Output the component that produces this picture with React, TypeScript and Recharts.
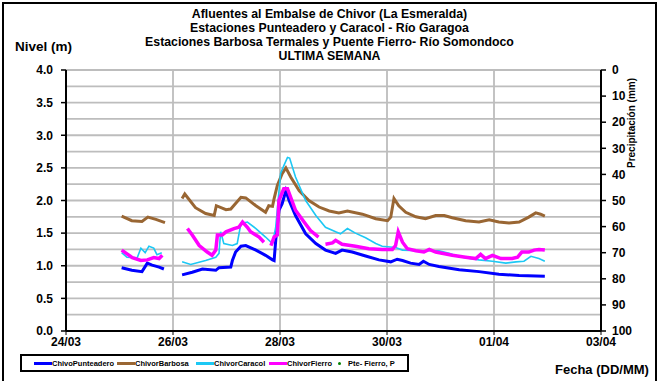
import { CartesianGrid, Line, LineChart, XAxis, YAxis } from 'recharts';

type Punto = [number, number | null];

// dia = días desde el 24/03 00:00, nivel en metros; null = vacío en el registro
const punteadero: Punto[] = [
  [1.04, 0.97], [1.23, 0.93], [1.42, 0.91], [1.52, 1.04], [1.61, 1.01], [1.74, 0.98], [1.83, 0.95],
  [1.95, null],
  [2.17, 0.86], [2.36, 0.9], [2.55, 0.95], [2.8, 0.93], [2.86, 0.97], [3.08, 0.98], [3.11, 1.08],
  [3.17, 1.21], [3.27, 1.3], [3.36, 1.31], [3.55, 1.24], [3.73, 1.16], [3.86, 1.09], [3.89, 1.08],
  [3.92, 1.39], [3.98, 1.85], [4.04, 1.95], [4.11, 2.15], [4.17, 2.0], [4.29, 1.77], [4.48, 1.49],
  [4.67, 1.34], [4.85, 1.24], [5.04, 1.19], [5.16, 1.24], [5.35, 1.21], [5.6, 1.15], [5.85, 1.09],
  [6.07, 1.06], [6.19, 1.1], [6.29, 1.08], [6.44, 1.04], [6.6, 1.02], [6.68, 1.07], [6.79, 1.02],
  [6.97, 0.99], [7.35, 0.94], [7.72, 0.91], [8.09, 0.87], [8.47, 0.85], [8.95, 0.84],
];

const barbosa: Punto[] = [
  [1.04, 1.76], [1.23, 1.69], [1.42, 1.68], [1.53, 1.745], [1.68, 1.71], [1.85, 1.66],
  [1.95, null],
  [2.17, 2.03], [2.22, 2.1], [2.42, 1.89], [2.61, 1.8], [2.77, 1.77], [2.81, 1.92], [2.99, 1.86],
  [3.08, 1.87], [3.27, 2.05], [3.36, 2.04], [3.55, 1.92], [3.73, 1.82], [3.79, 1.92], [3.86, 1.91],
  [3.89, 2.03], [3.95, 2.23], [4.04, 2.41], [4.11, 2.5], [4.2, 2.36], [4.36, 2.15], [4.54, 2.0],
  [4.73, 1.9], [4.92, 1.84], [5.1, 1.81], [5.26, 1.84], [5.54, 1.79], [5.79, 1.72], [6.01, 1.69],
  [6.07, 1.745], [6.13, 2.03], [6.22, 1.92], [6.35, 1.82], [6.54, 1.75], [6.72, 1.72], [6.91, 1.77],
  [7.07, 1.77], [7.22, 1.735], [7.47, 1.69], [7.72, 1.67], [7.91, 1.705], [8.09, 1.67], [8.28, 1.655],
  [8.47, 1.67], [8.65, 1.745], [8.78, 1.81], [8.87, 1.79], [8.95, 1.76],
];

const caracol: Punto[] = [
  [1.04, 1.2], [1.14, 1.13], [1.33, 1.12], [1.4, 1.27], [1.48, 1.2], [1.55, 1.3], [1.64, 1.27],
  [1.7, 1.17], [1.79, 1.2],
  [1.95, null],
  [2.17, 1.06], [2.33, 1.02], [2.61, 1.08], [2.8, 1.13], [2.86, 1.19], [2.89, 1.52], [2.95, 1.34],
  [3.11, 1.31], [3.2, 1.34], [3.27, 1.65], [3.39, 1.67], [3.55, 1.57], [3.73, 1.44], [3.86, 1.34],
  [3.92, 1.59], [4.01, 2.41], [4.07, 2.53], [4.14, 2.66], [4.18, 2.65], [4.29, 2.36], [4.48, 2.0],
  [4.67, 1.77], [4.85, 1.59], [5.04, 1.52], [5.13, 1.49], [5.26, 1.57], [5.41, 1.5], [5.6, 1.43],
  [5.79, 1.34], [5.91, 1.3], [6.16, 1.28], [6.29, 1.24], [6.6, 1.23], [6.97, 1.23], [7.16, 1.19],
  [7.35, 1.14], [7.72, 1.09], [7.97, 1.07], [8.22, 1.04], [8.41, 1.06], [8.56, 1.07], [8.69, 1.145],
  [8.84, 1.11], [8.95, 1.07],
];

const fierro: Punto[] = [
  [1.04, 1.24], [1.24, 1.125], [1.4, 1.08], [1.52, 1.09], [1.64, 1.125], [1.74, 1.11], [1.8, 1.16],
  [1.95, null],
  [2.27, 1.57], [2.36, 1.47], [2.49, 1.31], [2.64, 1.21], [2.73, 1.16], [2.8, 1.24], [2.83, 1.47],
  [2.92, 1.47], [2.99, 1.52], [3.14, 1.57], [3.23, 1.59], [3.3, 1.67], [3.39, 1.59], [3.45, 1.52],
  [3.61, 1.44], [3.7, 1.36],
  [3.76, null],
  [3.83, 1.31], [3.89, 1.44], [3.95, 1.47], [3.98, 2.0], [4.07, 2.18], [4.14, 2.18], [4.29, 1.85],
  [4.45, 1.67], [4.57, 1.54], [4.72, 1.44],
  [4.78, null],
  [4.85, 1.33], [4.98, 1.35], [5.04, 1.39], [5.16, 1.33], [5.41, 1.3], [5.66, 1.26], [5.91, 1.25],
  [6.1, 1.25], [6.16, 1.31], [6.21, 1.52], [6.29, 1.36], [6.38, 1.26], [6.54, 1.23], [6.69, 1.21],
  [6.79, 1.25], [6.91, 1.21], [7.22, 1.16], [7.47, 1.13], [7.66, 1.11], [7.75, 1.175], [7.84, 1.11],
  [7.97, 1.16], [8.13, 1.11], [8.34, 1.11], [8.44, 1.13], [8.52, 1.21], [8.65, 1.21], [8.75, 1.24],
  [8.84, 1.25], [8.95, 1.24],
];

const diasTicks = [0, 2, 4, 6, 8, 10];
const fechas = ['24/03', '26/03', '28/03', '30/03', '01/04', '03/04'];
const nivelTicks = [0, 0.5, 1, 1.5, 2, 2.5, 3, 3.5, 4];
const nivelGrid = [0.25, 0.5, 0.75, 1, 1.25, 1.5, 1.75, 2, 2.25, 2.5, 2.75, 3, 3.25, 3.5, 3.75, 4];
const precipTicks = [0, 10, 20, 30, 40, 50, 60, 70, 80, 90, 100];

const titulo = [
  'Afluentes al Embalse de Chivor (La Esmeralda)',
  'Estaciones Punteadero y Caracol - Río Garagoa',
  'Estaciones Barbosa Termales y Puente Fierro- Río Somondoco',
  'ULTIMA SEMANA',
];

const SERIES = [
  { name: 'ChivoPunteadero', data: punteadero, color: '#0000FF', width: 3 },
  { name: 'ChivorBarbosa', data: barbosa, color: '#996633', width: 3 },
  { name: 'ChivorCaracol', data: caracol, color: '#1CC8F4', width: 1.6 },
  { name: 'ChivorFierro', data: fierro, color: '#FF00FF', width: 3.5 },
];

const W = 659;
const H = 381;
const MARGIN = { top: 70, right: 18, bottom: 30, left: 26 };
const X_AXIS_H = 20;
const PLOT_H = H - MARGIN.top - MARGIN.bottom - X_AXIS_H;
const NIVEL_MAX = 4;

const FONT = '"Liberation Sans", Arial, sans-serif';
const GRID = '#BDBDBD';
const tickStyle = { fill: '#000', fontSize: 12, fontWeight: 'bold', fontFamily: FONT };

const toRows = (serie: Punto[]) => serie.map(([dia, nivel]) => ({ dia, nivel }));

// rejilla horizontal cada 0.25 m (las etiquetas van cada 0.5)
const gridY = nivelGrid.map((v) => MARGIN.top + PLOT_H * (1 - v / NIVEL_MAX));

export default function App() {
  return (
    <div
      style={{
        position: 'absolute',
        left: 0,
        top: 0,
        width: W,
        height: H,
        overflow: 'hidden',
        background: '#fff',
        fontFamily: FONT,
      }}
    >
      <div
        style={{
          position: 'absolute',
          left: 2,
          top: 2,
          width: 651,
          height: 420,
          border: '2px solid #000',
        }}
      />
      <div
        style={{
          position: 'absolute',
          left: 0,
          top: 7,
          width: W,
          textAlign: 'center',
          fontSize: 12.3,
          fontWeight: 'bold',
          lineHeight: '14px',
        }}
      >
        {titulo.map((t) => (
          <div key={t}>{t}</div>
        ))}
      </div>
      <div style={{ position: 'absolute', left: 15, top: 39, fontSize: 13.5, fontWeight: 'bold' }}>
        Nivel (m)
      </div>
      <div
        style={{
          position: 'absolute',
          left: 555,
          top: 362,
          fontSize: 13,
          fontWeight: 'bold',
          whiteSpace: 'nowrap',
        }}
      >
        Fecha (DD/MM)
      </div>
      <svg style={{ position: 'absolute', left: 620, top: 74, overflow: 'visible' }} width={24} height={100}>
        <text
          transform="translate(15, 94) rotate(-90)"
          fontSize={10}
          fontWeight="bold"
          fontFamily={FONT}
          textLength={90}
          lengthAdjust="spacingAndGlyphs"
        >
          Precipitación (mm)
        </text>
      </svg>

      <LineChart width={W} height={H} margin={MARGIN} style={{ position: 'absolute', left: 0, top: 0 }}>
        <CartesianGrid
          stroke={GRID}
          strokeWidth={1.8}
          horizontalPoints={gridY}
          verticalValues={[2, 4, 6, 8]}
        />
        <XAxis
          type="number"
          dataKey="dia"
          domain={[0, 10]}
          ticks={diasTicks}
          tickFormatter={(v: number) => fechas[diasTicks.indexOf(v)] ?? ''}
          height={X_AXIS_H}
          tick={tickStyle}
          tickSize={4}
          tickMargin={2}
          axisLine={{ stroke: '#000', strokeWidth: 2 }}
          tickLine={{ stroke: '#000' }}
          allowDataOverflow
        />
        <YAxis
          domain={[0, NIVEL_MAX]}
          ticks={nivelTicks}
          tickFormatter={(v: number) => v.toFixed(1)}
          width={40}
          tick={tickStyle}
          tickSize={5}
          tickMargin={8}
          axisLine={{ stroke: '#000', strokeWidth: 2 }}
          tickLine={{ stroke: '#000', strokeWidth: 1.5 }}
          allowDataOverflow
        />
        <YAxis
          yAxisId="precip"
          orientation="right"
          domain={[0, 100]}
          reversed
          ticks={precipTicks}
          width={40}
          tick={tickStyle}
          tickSize={5}
          tickMargin={6}
          axisLine={{ stroke: '#000', strokeWidth: 2 }}
          tickLine={{ stroke: '#000', strokeWidth: 1.5 }}
          allowDataOverflow
        />
        {SERIES.map((s) => (
          <Line
            key={s.name}
            data={toRows(s.data)}
            dataKey="nivel"
            name={s.name}
            stroke={s.color}
            strokeWidth={s.width}
            dot={false}
            activeDot={false}
            type="linear"
            connectNulls={false}
            isAnimationActive={false}
          />
        ))}
      </LineChart>

      <div
        style={{
          position: 'absolute',
          left: 20,
          top: 354,
          width: 385,
          height: 14,
          border: '2px solid #000',
          display: 'flex',
          alignItems: 'center',
          fontSize: 7.5,
          fontWeight: 'bold',
          color: '#000',
        }}
      >
        {SERIES.map((s, i) => (
          <div
            key={s.name}
            style={{ display: 'flex', alignItems: 'center', position: 'absolute', left: [12, 95, 174, 247][i] }}
          >
            <span style={{ display: 'inline-block', width: 18, height: 3, background: s.color }} />
            <span>{s.name}</span>
          </div>
        ))}
        <div style={{ display: 'flex', alignItems: 'center', position: 'absolute', left: 316 }}>
          <span
            style={{
              display: 'inline-block',
              width: 3,
              height: 3,
              borderRadius: 2,
              background: '#008000',
              marginRight: 7,
            }}
          />
          <span>Pte- Fierro, P</span>
        </div>
      </div>
    </div>
  );
}
